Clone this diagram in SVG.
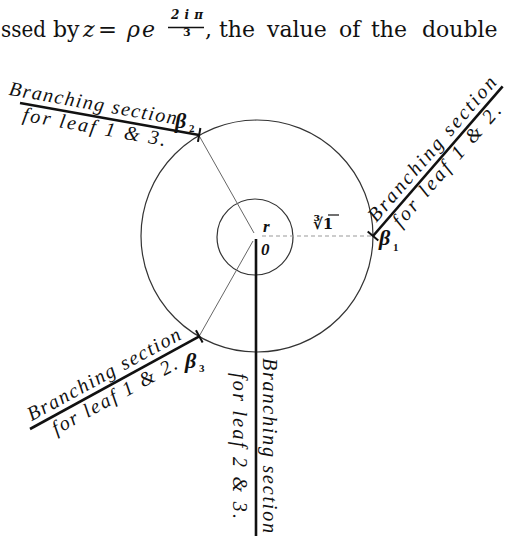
<svg xmlns="http://www.w3.org/2000/svg" width="506" height="536" viewBox="0 0 506 536">
<style>
.hd{font-family:"DejaVu Serif",serif;font-size:22px;fill:#111}
.it{font-style:italic}
.lab{font-family:"Liberation Serif",serif;font-style:italic;font-size:20px;fill:#111}
.beta{font-family:"Liberation Serif",serif;font-style:italic;font-weight:bold;font-size:22px;fill:#111}
.sub{font-family:"Liberation Serif",serif;font-weight:bold;font-size:11px;fill:#111}
.thick{stroke:#111;stroke-width:2.6;fill:none;stroke-linecap:butt}
.tick{stroke:#111;stroke-width:2;fill:none}
.circ{stroke:#333;stroke-width:1.2;fill:none}
.thin{stroke:#666;stroke-width:1;fill:none}
.dash{stroke:#999;stroke-width:1;fill:none;stroke-dasharray:4 3}
</style>
<rect width="506" height="536" fill="#fff"/>
<g id="header">
<text class="hd" x="1" y="37" textLength="45" lengthAdjust="spacingAndGlyphs">ssed</text>
<text class="hd" x="53" y="37">by</text>
<text class="hd it" x="83" y="37">z</text>
<text class="hd" x="98" y="37" textLength="19" lengthAdjust="spacingAndGlyphs">=</text>
<text class="hd it" x="127" y="37">ρ</text>
<text class="hd it" x="142" y="37">e</text>
<text class="hd it" x="171" y="19" style="font-size:12px;font-weight:bold" textLength="32">2iπ</text>
<line x1="168" y1="27.5" x2="204" y2="27.5" stroke="#111" stroke-width="1.3"/>
<text class="hd" x="183" y="36" style="font-size:11px;font-weight:bold">3</text>
<text class="hd" x="205" y="37">,</text>
<text class="hd" x="219" y="37">the</text>
<text class="hd" x="267" y="37">value</text>
<text class="hd" x="339" y="37">of</text>
<text class="hd" x="371" y="37">the</text>
<text class="hd" x="422" y="37">double</text>
</g>
<g id="circles">
<circle class="circ" cx="257" cy="236" r="116"/>
<circle class="circ" cx="255" cy="237" r="38"/>
</g>
<g id="connectors">
<line class="thin" x1="199" y1="135.5" x2="254" y2="233"/>
<line class="thin" x1="253" y1="241" x2="199" y2="336.5"/>
<line class="dash" x1="262" y1="236" x2="371" y2="236"/>
<line class="thick" x1="256" y1="239" x2="256" y2="536"/>
</g>
<g id="centre">
<text class="beta" x="263" y="232" style="font-size:17px">r</text>
<text class="beta" x="261" y="255" style="font-size:17px">0</text>
<text x="313" y="229" style="font-family:'DejaVu Serif',serif;font-weight:bold;font-size:15px;fill:#111">∛1</text>
<line x1="328" y1="215" x2="339" y2="215" stroke="#111" stroke-width="1.2"/>
</g>
<g id="beta2">
<g transform="translate(20,103) rotate(10.1)">
<line class="thick" x1="0" y1="0" x2="182" y2="0"/>
<line class="tick" x1="182" y1="-7" x2="182" y2="7"/>
<text class="lab" x="-13" y="-6" textLength="170">Branching section</text>
<text class="lab" x="5" y="17" textLength="145">for leaf 1 &amp; 3.</text>
</g>
<text class="beta" x="175" y="128">β</text>
<text class="sub" x="189" y="132">2</text>
</g>
<g id="beta1">
<g transform="translate(373,236) rotate(-49.1)">
<line class="thick" x1="0" y1="0" x2="198" y2="0"/>
<line class="tick" x1="0" y1="-7" x2="0" y2="7"/>
<text class="lab" x="12" y="-6" textLength="185">Branching section</text>
<text class="lab" x="24" y="16" textLength="155">for leaf 1 &amp; 2.</text>
</g>
<text class="beta" x="379" y="245">β</text>
<text class="sub" x="393" y="251">1</text>
</g>
<g id="beta3">
<g transform="translate(30,429) rotate(-28.7)">
<line class="thick" x1="0" y1="0" x2="193" y2="0"/>
<line class="tick" x1="193" y1="-7" x2="193" y2="7"/>
<text class="lab" x="5" y="-6" textLength="172">Branching section</text>
<text class="lab" x="20" y="18" textLength="140">for leaf 1 &amp; 2.</text>
</g>
<text class="beta" x="185" y="368">β</text>
<text class="sub" x="199" y="372">3</text>
</g>
<g id="vertical">
<text class="lab" transform="translate(263,358) rotate(90)" textLength="175">Branching section</text>
<text class="lab" transform="translate(233,373) rotate(90)" textLength="146">for leaf 2 &amp; 3.</text>
</g>
</svg>
